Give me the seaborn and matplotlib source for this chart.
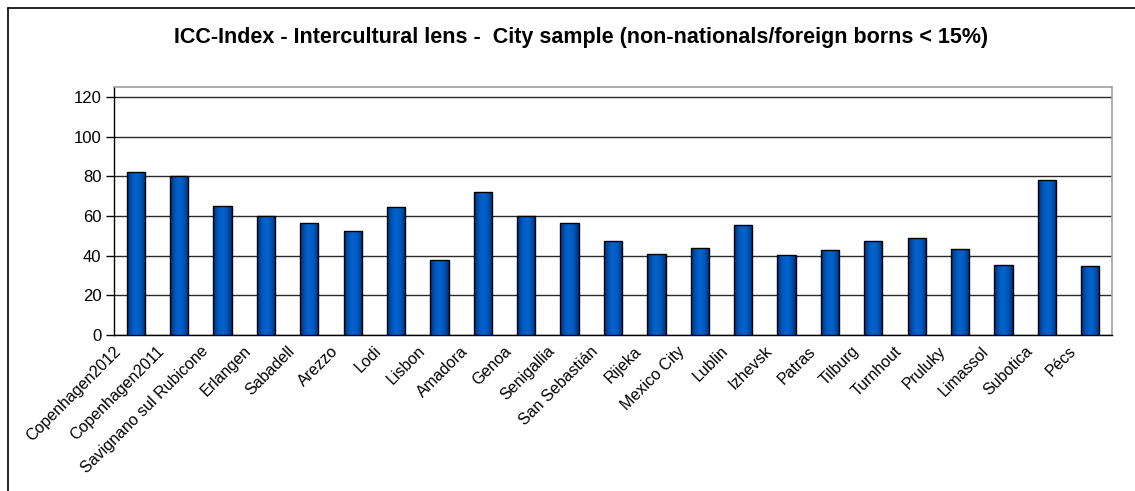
import matplotlib
matplotlib.use("Agg")
import matplotlib.pyplot as plt
from matplotlib.lines import Line2D
import seaborn as sns
import numpy as np
import pandas as pd

cities = ['Copenhagen2012', 'Copenhagen2011', 'Savignano sul Rubicone', 'Erlangen', 'Sabadell',
          'Arezzo', 'Lodi', 'Lisbon', 'Amadora', 'Genoa', 'Senigallia', 'San Sebastián', 'Rijeka',
          'Mexico City', 'Lublin', 'Izhevsk', 'Patras', 'Tilburg', 'Turnhout', 'Pruluky',
          'Limassol', 'Subotica', 'Pécs']
scores = [82, 80, 65, 60, 56.5, 52.5, 64.5, 38, 72, 60, 56.5, 47.5, 41, 44, 55.5, 40.5,
          43, 47.5, 49, 43.5, 35.5, 78, 35]
y_ticks = [0, 20, 40, 60, 80, 100, 120]
title = 'ICC-Index - Intercultural lens -  City sample (non-nationals/foreign borns < 15%)'

df = pd.DataFrame({'city': cities, 'score': scores})

sns.set_style('white')
plt.rcParams['font.family'] = ['Liberation Sans', 'DejaVu Sans']
plt.rcParams['text.color'] = 'black'
plt.rcParams['xtick.color'] = 'black'
plt.rcParams['ytick.color'] = 'black'

fig = plt.figure(figsize=(11.35, 4.91), dpi=100)
ax = fig.add_axes([114 / 1135, 1 - 335 / 491, (1112 - 114) / 1135, (335 - 87) / 491])

sns.barplot(data=df, x='city', y='score', color='#0055B5', edgecolor='black',
            linewidth=1.0, width=0.42, saturation=1, ax=ax, zorder=3)

# gradient fill like the original Excel bars
grad = np.linspace(0, 1, 64)
grad = np.sin(grad * np.pi)[None, :]
cmap = matplotlib.colors.LinearSegmentedColormap.from_list('bar', ['#002E78', '#0062CC'])
for p in list(ax.patches):
    x0, y0 = p.get_x(), p.get_y()
    w, h = p.get_width(), p.get_height()
    im = ax.imshow(grad, cmap=cmap, aspect='auto', extent=(x0, x0 + w, y0, y0 + h),
                   zorder=3.5, interpolation='bilinear')
    im.set_clip_path(p)
    p.set_facecolor('none')
    p.set_zorder(4)

ax.set_xlim(-0.5, len(cities) - 0.5)
ax.set_ylim(0, 125)
ax.set_yticks(y_ticks)
ax.set_yticklabels([str(t) for t in y_ticks], fontsize=12)
ax.yaxis.grid(True, color='#2a2a2a', linewidth=1.0, zorder=1)
ax.set_axisbelow(True)
ax.set_xlabel('')
ax.set_ylabel('')

ax.set_xticks(np.arange(len(cities)))
ax.set_xticklabels(cities, rotation=45, ha='right', va='center', rotation_mode='anchor', fontsize=11.5)
ax.set_xticks(np.arange(len(cities) + 1) - 0.5, minor=True)
ax.tick_params(axis='x', which='major', length=0, pad=10)
ax.tick_params(axis='x', which='minor', length=5, width=1, color='black', direction='out')
ax.tick_params(axis='y', length=6, width=1, color='black', direction='out', left=True, pad=3)
offset = matplotlib.transforms.ScaledTranslation(-17 / 100, 0, fig.dpi_scale_trans)
for lbl in ax.get_xticklabels():
    lbl.set_transform(lbl.get_transform() + offset)

for s in ['left', 'bottom']:
    ax.spines[s].set_color('black')
    ax.spines[s].set_linewidth(1.0)
for s in ['top', 'right']:
    ax.spines[s].set_visible(True)
    ax.spines[s].set_color('#a0a0a0')
    ax.spines[s].set_linewidth(1.2)

fig.text(581 / 1135, 1 - 38 / 491, title, ha='center', va='center',
         fontsize=15.5, fontweight='bold')

# outer chart frame (only top and left edges visible in the crop)
fig.add_artist(Line2D([8 / 1135, 1.0], [1 - 8 / 491, 1 - 8 / 491], color='black', lw=1.2,
                      transform=fig.transFigure))
fig.add_artist(Line2D([8 / 1135, 8 / 1135], [0.0, 1 - 8 / 491], color='black', lw=1.2,
                      transform=fig.transFigure))

fig.savefig('out.png', dpi=100)
